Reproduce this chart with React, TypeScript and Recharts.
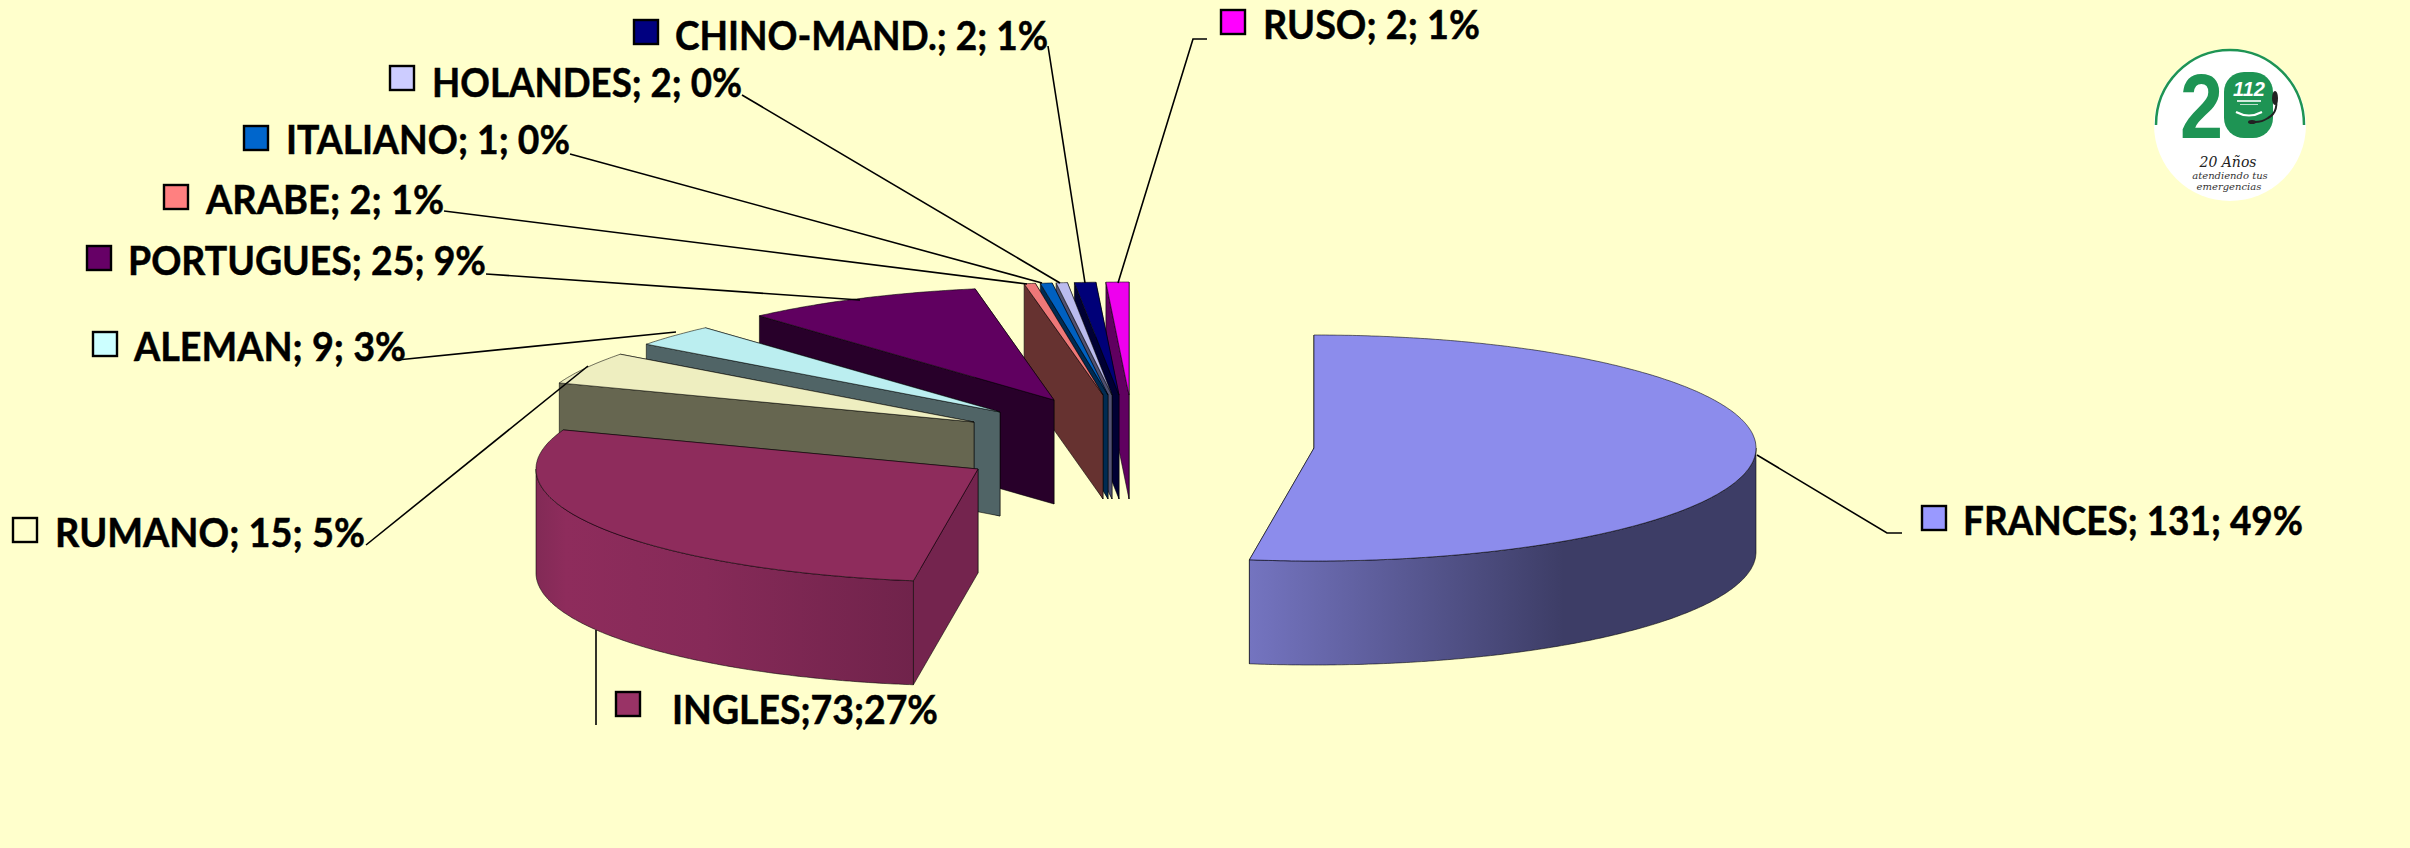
import React from 'react';
import { PieChart, Pie } from 'recharts';

// ---- data, back-most slice first so that the painter's order follows the drawing order
const names = ['RUSO', 'CHINO-MAND.', 'HOLANDES', 'ITALIANO', 'ARABE', 'PORTUGUES', 'ALEMAN', 'RUMANO', 'INGLES', 'FRANCES'];
const values = [2, 2, 2, 1, 2, 25, 9, 15, 73, 131];
const labels = [
  'RUSO; 2; 1%', 'CHINO-MAND.; 2; 1%', 'HOLANDES; 2; 0%', 'ITALIANO; 1; 0%', 'ARABE; 2; 1%',
  'PORTUGUES; 25; 9%', 'ALEMAN; 9; 3%', 'RUMANO; 15; 5%', 'INGLES;73;27%', 'FRANCES; 131; 49%',
];
const tableData = names.map((name, i) => ({ name, value: values[i], label: labels[i] }));

// ---- styling and layout
const BG = '#FFFFCC';
const TILT = 113 / 442;
const DEPTH = 104;
const CX = 1129;
const CY = 395;
const RADIUS = 442;
const FONT = 'Lato, "Open Sans", sans-serif';

type Look = { top: string; side: string; swatch: string; ex: [number, number]; arc?: [number, string][] };
const LOOK: Record<string, Look> = {
  RUSO: { top: '#EE00EE', side: '#600060', swatch: '#FF00FF', ex: [0, 0] },
  'CHINO-MAND.': { top: '#000078', side: '#000033', swatch: '#000080', ex: [-10, 0] },
  HOLANDES: { top: '#BBBBEE', side: '#505070', swatch: '#CCCCFF', ex: [-17, 0] },
  ITALIANO: { top: '#0060C0', side: '#002B52', swatch: '#0066CC', ex: [-21, 0] },
  ARABE: { top: '#EE7878', side: '#663230', swatch: '#FF8080', ex: [-26, 0] },
  PORTUGUES: { top: '#600060', side: '#28002A', swatch: '#660066', ex: [-75, 5] },
  ALEMAN: { top: '#BBEEF0', side: '#506466', swatch: '#CCFFFF', ex: [-129, 17] },
  RUMANO: { top: '#EEEEC0', side: '#666650', swatch: '#FFFFCC', ex: [-155, 27] },
  INGLES: {
    top: '#8E2C5C', side: '#74244E', swatch: '#993366', ex: [-151, 74],
    arc: [[0, '#822A56'], [0.08, '#8E2C5C'], [0.45, '#862A58'], [1, '#70234B']],
  },
  FRANCES: {
    top: '#8C8CEC', side: '#3D3D66', swatch: '#9999FF', ex: [185, 53],
    arc: [[0, '#7474C0'], [0.62, '#3D3D66'], [1, '#3D3D66']],
  },
};

type Tag = { sx: number; sy: number; tx: number; tw: number; ty: number; line: [number, number][] };
const TAGS: Record<string, Tag> = {
  RUSO: { sx: 1221, sy: 22, tx: 1263, tw: 217, ty: 25, line: [[1207, 39], [1193, 39], [1118, 283]] },
  'CHINO-MAND.': { sx: 634, sy: 32, tx: 675, tw: 373, ty: 36, line: [[1048, 46], [1085, 283]] },
  HOLANDES: { sx: 390, sy: 78, tx: 432, tw: 310, ty: 83, line: [[742, 95], [1060, 283]] },
  ITALIANO: { sx: 244, sy: 138, tx: 286, tw: 284, ty: 140, line: [[570, 154], [1042, 283]] },
  ARABE: { sx: 164, sy: 197, tx: 206, tw: 238, ty: 200, line: [[444, 211], [1027, 284]] },
  PORTUGUES: { sx: 87, sy: 258, tx: 128, tw: 358, ty: 261, line: [[486, 274], [860, 300]] },
  ALEMAN: { sx: 93, sy: 344, tx: 134, tw: 272, ty: 347, line: [[397, 360], [676, 332]] },
  RUMANO: { sx: 13, sy: 530, tx: 55, tw: 310, ty: 533, line: [[366, 545], [588, 366]] },
  INGLES: { sx: 616, sy: 704, tx: 672, tw: 266, ty: 710, line: [[596, 630], [596, 725]] },
  FRANCES: { sx: 1922, sy: 518, tx: 1963, tw: 340, ty: 521, line: [[1757, 455], [1887, 533], [1902, 533]] },
};

// The original's perspective shifts the apparent angles a little.
const WARP: [number, number][] = [
  [0, 0], [180, 8.4], [280, 10], [300, 6], [347.6, 2.1], [350.4, 0.8], [351.7, 1],
  [354.5, -0.3], [357.25, -0.25], [360, 0],
];
const warp = (t: number) => {
  for (let i = 1; i < WARP.length; i++) {
    const [a, da] = WARP[i - 1];
    const [b, db] = WARP[i];
    if (t <= b) return t + da + ((t - a) / (b - a)) * (db - da);
  }
  return t;
};

const rad = (d: number) => (d * Math.PI) / 180;

function Slice(props: any) {
  const name: string = props.name ?? props.payload?.name;
  const look = LOOK[name];
  if (!look) return null;
  const ax = props.cx + look.ex[0];
  const ay = props.cy + look.ex[1];
  const r = props.outerRadius;
  const t1 = warp(450 - props.endAngle);
  const t2 = warp(450 - props.startAngle);
  const pt = (t: number, dz = 0): [number, number] => [
    ax + r * Math.sin(rad(t)),
    ay - r * TILT * Math.cos(rad(t)) + dz,
  ];
  const samples = (a: number, b: number, dz = 0) => {
    const n = Math.max(2, Math.ceil(Math.abs(b - a) * 2));
    return Array.from({ length: n + 1 }, (_, i) => pt(a + ((b - a) * i) / n, dz));
  };
  const toPath = (p: [number, number][]) =>
    'M' + p.map(([x, y]) => `${x.toFixed(1)},${y.toFixed(1)}`).join('L') + 'Z';
  const quad = (t: number) =>
    toPath([[ax, ay], pt(t), pt(t, DEPTH), [ax, ay + DEPTH]]);
  const frontA = Math.max(t1, 90);
  const frontB = Math.min(t2, 270);
  const hasFront = frontB > frontA;
  const gradId = `arc-${name.replace(/[^A-Z]/g, '')}`;
  const edge = { stroke: '#000', strokeOpacity: 0.55, strokeWidth: 1 };
  return (
    <g>
      {look.arc && (
        <defs>
          <linearGradient id={gradId} x1="0" x2="1" y1="0" y2="0">
            {look.arc.map(([o, c]) => (
              <stop key={o} offset={o} stopColor={c} />
            ))}
          </linearGradient>
        </defs>
      )}
      <path d={quad(t2)} fill={look.side} {...edge} />
      <path d={quad(t1)} fill={look.side} {...edge} />
      {hasFront && (
        <path
          d={toPath([...samples(frontA, frontB), ...samples(frontB, frontA, DEPTH)])}
          fill={look.arc ? `url(#${gradId})` : look.side}
          {...edge}
        />
      )}
      <path d={toPath([[ax, ay], ...samples(t1, t2)])} fill={look.top} {...edge} />
    </g>
  );
}

function Tagged(props: any) {
  const name: string = props.name ?? props.payload?.name;
  const tag = TAGS[name];
  const look = LOOK[name];
  if (!tag) return null;
  const text: string = props.label ?? props.payload?.label;
  return (
    <g>
      <polyline
        points={tag.line.map((p) => p.join(',')).join(' ')}
        fill="none"
        stroke="#000"
        strokeWidth={1.6}
      />
      <rect x={tag.sx} y={tag.sy - 12} width={24} height={24} fill={look.swatch} stroke="#000" strokeWidth={2.4} />
      <text
        x={tag.tx}
        y={tag.ty + 14}
        fontFamily={FONT}
        fontWeight={700}
        fontSize={41}
        fill="#000"
        stroke="#000"
        strokeWidth={0.5}
        textLength={tag.tw}
        lengthAdjust="spacingAndGlyphs"
      >
        {text}
      </text>
    </g>
  );
}

function Logo() {
  const green = '#1E9454';
  return (
    <svg width={2410} height={848} style={{ position: 'absolute', left: 0, top: 0, pointerEvents: 'none' }}>
      <circle cx={2230} cy={125} r={76} fill="#FFFFFF" />
      <path d="M2156,125 A74,75 0 0 1 2304,125" fill="none" stroke={green} strokeWidth={2.5} />
      <text x={2180} y={138} fontFamily="Liberation Sans" fontWeight={700} fontSize={90} fill={green} textLength={43} lengthAdjust="spacingAndGlyphs">2</text>
      <rect x={2224} y={72} width={49} height={66} rx={20} fill={green} />
      <text x={2249} y={96} textAnchor="middle" fontFamily="Liberation Sans" fontWeight={700} fontStyle="italic" fontSize={20} fill="#fff">112</text>
      <rect x={2237} y={100} width={24} height={2} fill="#fff" opacity={0.8} />
      <rect x={2240} y={104} width={18} height={1} fill="#fff" opacity={0.7} />
      <path d="M2236,112 Q2249,119 2262,112" fill="none" stroke="#fff" strokeWidth={2} />
      <path d="M2275,92 Q2280,112 2268,118 Q2262,122 2255,122" fill="none" stroke="#222" strokeWidth={2} />
      <ellipse cx={2275} cy={98} rx={3} ry={7} fill="#222" />
      <ellipse cx={2252} cy={122} rx={4} ry={2} fill="#222" />
      <text x={2228} y={167} textAnchor="middle" fontFamily="DejaVu Serif" fontStyle="italic" fontSize={14} fill="#222">20 Años</text>
      <text x={2230} y={179} textAnchor="middle" fontFamily="DejaVu Serif" fontStyle="italic" fontSize={10} fill="#333">atendiendo tus</text>
      <text x={2229} y={190} textAnchor="middle" fontFamily="DejaVu Serif" fontStyle="italic" fontSize={10} fill="#333">emergencias</text>
    </svg>
  );
}

export default function App() {
  return (
    <div style={{ position: 'absolute', left: 0, top: 0, width: 2410, height: 848, background: BG, overflow: 'hidden' }}>
      <PieChart width={2410} height={848} margin={{ top: 0, right: 0, bottom: 0, left: 0 }}>
        <Pie
          data={tableData}
          dataKey="value"
          nameKey="name"
          cx={CX}
          cy={CY}
          innerRadius={0}
          outerRadius={RADIUS}
          startAngle={90}
          endAngle={450}
          stroke="none"
          isAnimationActive={false}
          shape={Slice as any}
          activeShape={Slice as any}
          inactiveShape={Slice as any}
          label={Tagged as any}
          labelLine={false}
        />
      </PieChart>
      <Logo />
    </div>
  );
}
